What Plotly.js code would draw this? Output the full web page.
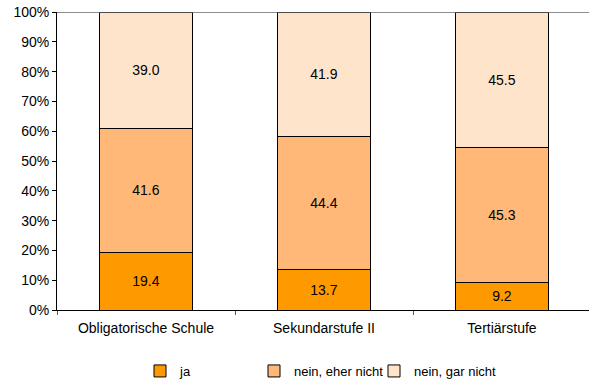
<!DOCTYPE html>
<html><head><meta charset="utf-8">
<script src="https://cdn.plot.ly/plotly-3.0.1.min.js"></script>
<style>html,body{margin:0;padding:0;background:#fff;overflow:hidden}</style>
</head><body><div id="chart" style="width:589px;height:381px"></div>
<script>
const categories = ["Obligatorische Schule", "Sekundarstufe II", "Tertiärstufe"];
const seriesNames = ["ja", "nein, eher nicht", "nein, gar nicht"];
const ja = [19.4, 13.7, 9.2];
const eherNicht = [41.6, 44.4, 45.3];
const garNicht = [39.0, 41.9, 45.5];
const yTickVals = [0,10,20,30,40,50,60,70,80,90,100];
const yTickText = ["0%","10%","20%","30%","40%","50%","60%","70%","80%","90%","100%"];

const colors = ["#FF9900", "#FFB878", "#FFE4CC"];
const legendIds = ['legend', 'legend2', 'legend3'];
const legendX = [140, 254, 374];
const xIdx = categories.map((c,i)=>i);
const data = [ja, eherNicht, garNicht].map((vals,k)=>({
  type:'bar', x:xIdx, y:vals, name:seriesNames[k], legend:legendIds[k],
  width:0.52,
  marker:{color:colors[k], line:{color:'#000', width:1}},
  text: vals.map(v=>v.toFixed(1)), textposition:'inside', insidetextanchor:'middle',
  textfont:{color:'#000', size:14, family:'Liberation Sans, Arial, sans-serif'},
  hoverinfo:'none'
}));

const layout = {
  width:589, height:381,
  margin:{l:57, r:0, t:12, b:71},
  barmode:'stack', bargap:0,
  paper_bgcolor:'#fff', plot_bgcolor:'#fff',
  font:{family:'Liberation Sans, Arial, sans-serif', size:14, color:'#000'},
  showlegend:true,
  xaxis:{range:[-0.5, 2.4888], tickmode:'array', tickvals:xIdx, ticktext:categories,
    ticks:'', ticklabelstandoff:5, showgrid:false, zeroline:false, showline:true, linecolor:'#000', linewidth:1,
    fixedrange:true,
    minor:{tickmode:'array', tickvals:[-0.5,0.5,1.5], ticks:'outside', ticklen:4, tickcolor:'#555', showgrid:false}},
  yaxis:{range:[0,100], tickmode:'array', tickvals:yTickVals, ticktext:yTickText,
    ticks:'outside', ticklen:4, tickcolor:'#000', showgrid:false, zeroline:false,
    showline:true, linecolor:'#000', linewidth:1, fixedrange:true},
  shapes:[{type:'line', xref:'paper', yref:'y', x0:0, x1:1, y0:100, y1:100, line:{color:'#666', width:1.5}}]
};
legendIds.forEach((id,k)=>{
  layout[id] = {orientation:'h', xref:'container', yref:'container', x:legendX[k]/589, xanchor:'left',
    y:10/381, yanchor:'middle', font:{size:13}, bgcolor:'rgba(0,0,0,0)'};
});
Plotly.newPlot('chart', data, layout, {displayModeBar:false, staticPlot:true});
</script></body></html>
